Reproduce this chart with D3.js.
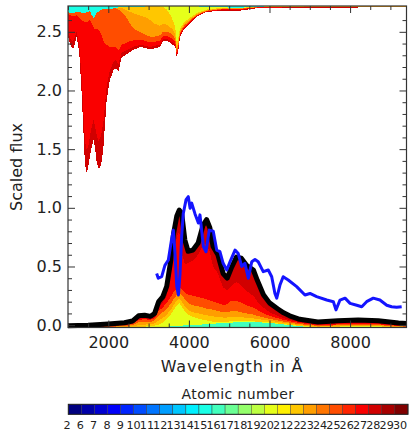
<!DOCTYPE html>
<html>
<head>
<meta charset="utf-8">
<script src="https://cdn.jsdelivr.net/npm/d3@7"></script>
<style>
  body { margin: 0; background: #fff; }
  svg text { font-family: "DejaVu Sans", sans-serif; fill: #222; }
</style>
</head>
<body>
<script>
// ---- emission part (stacked from the bottom), cumulative layer tops ----
const emWave = [1000,1500,2000,2400,2600,2750,2900,3050,3150,3250,3350,3450,3550,3620,3700,3760,3820,3900,3980,4100,4230,4350,4440,4520,4600,4720,4850,4950,5050,5180,5300,5430,5600,5700,5850,6000,6200,6350,6500,6750,7200,7700,8200,8700,9200,9400];
const emCyan   = [-0.02,-0.02,-0.02,-0.02,-0.02,-0.02,-0.02,-0.02,-0.02,-0.02,-0.02,-0.015,-0.01,-0.008,-0.006,-0.005,-0.004,-0.002,0,0.002,0.004,0.006,0.008,0.01,0.012,0.015,0.018,0.02,0.022,0.024,0.025,0.026,0.026,0.025,0.022,0.018,0.012,0.006,0,-0.01,-0.02,-0.02,-0.02,-0.02,-0.02,-0.02];
const emGreen  = [-0.02,-0.02,-0.02,-0.02,-0.02,-0.015,-0.012,-0.01,-0.005,0.005,0.02,0.05,0.09,0.13,0.17,0.19,0.16,0.12,0.09,0.07,0.055,0.045,0.04,0.035,0.03,0.028,0.028,0.03,0.032,0.034,0.034,0.033,0.032,0.03,0.027,0.022,0.015,0.009,0.003,-0.007,-0.016,-0.012,-0.008,-0.01,-0.018,-0.02];
const emGold   = [-0.02,-0.02,-0.018,-0.015,-0.01,0,0.005,0.008,0.015,0.04,0.06,0.09,0.13,0.17,0.21,0.23,0.2,0.16,0.13,0.11,0.1,0.09,0.085,0.08,0.075,0.07,0.065,0.065,0.07,0.07,0.068,0.062,0.058,0.053,0.045,0.038,0.028,0.02,0.013,0,-0.012,-0.008,-0.003,-0.005,-0.015,-0.017];
const emOrange = [-0.02,-0.02,-0.015,-0.008,0,0.025,0.03,0.028,0.04,0.08,0.11,0.14,0.18,0.22,0.26,0.27,0.26,0.22,0.19,0.17,0.16,0.15,0.14,0.14,0.13,0.12,0.11,0.11,0.12,0.12,0.11,0.1,0.09,0.08,0.066,0.053,0.04,0.03,0.022,0.008,-0.006,-0.002,0.003,0,-0.01,-0.013];
const emOrRed  = [-0.02,-0.018,-0.01,0,0.012,0.045,0.05,0.045,0.06,0.12,0.15,0.19,0.24,0.28,0.31,0.32,0.31,0.28,0.26,0.25,0.24,0.23,0.22,0.21,0.2,0.19,0.17,0.18,0.21,0.21,0.19,0.17,0.15,0.13,0.1,0.08,0.06,0.045,0.034,0.018,0,0.006,0.01,0.007,-0.006,-0.009];
const emRed    = [-0.02,-0.015,-0.005,0.005,0.02,0.055,0.06,0.055,0.08,0.16,0.19,0.25,0.42,0.6,0.75,0.8,0.62,0.52,0.53,0.55,0.6,0.68,0.7,0.62,0.5,0.44,0.32,0.3,0.33,0.37,0.34,0.29,0.25,0.2,0.15,0.11,0.08,0.06,0.045,0.025,0.008,0.015,0.02,0.015,0,-0.004];
// total model flux (black line)
const emTotal  = [-0.005,0,0.01,0.02,0.035,0.08,0.085,0.075,0.1,0.2,0.24,0.33,0.55,0.78,0.93,0.98,0.955,0.725,0.63,0.64,0.7,0.85,0.9,0.83,0.67,0.6,0.44,0.4,0.485,0.58,0.57,0.51,0.47,0.38,0.26,0.19,0.14,0.105,0.08,0.05,0.027,0.038,0.044,0.038,0.018,0.015];

// ---- absorption part (hanging from the top), cumulative depths ----
const topWave   = [1000,1060,1130,1215,1280,1340,1380,1420,1460,1500,1540,1590,1630,1670,1710,1750,1795,1840,1880,1920,1960,2040,2125,2190,2250,2330,2415,2540,2650,2790,2950,3035,3150,3280,3360,3450,3530,3600,3660,3700,3740,3780,3880,3990,4190,4440,4850,5270,5680,6010,7000,8000,9400];
const topCyan   = [0.05,0.06,0.06,0.05,0.05,0.06,0.06,0.06,0.05,0.05,0.04,0.08,0.1,0.09,0.06,0.05,0.04,0.03,0.025,0.02,0.025,0.03,0.02,0.015,0.012,0.01,0.01,0.008,0.006,0.005,0.004,0.004,0.004,0.004,0.004,0.004,0.004,0.004,0.004,0.004,0.004,0.004,0.004,0.004,0.004,0.005,0.012,0.015,0.006,0.003,0.002,0.002,0.002];
const topGreen  = [0.05,0.06,0.06,0.05,0.05,0.06,0.06,0.06,0.05,0.05,0.04,0.08,0.1,0.09,0.06,0.05,0.04,0.03,0.025,0.02,0.025,0.03,0.02,0.015,0.012,0.01,0.01,0.008,0.006,0.005,0.004,0.004,0.004,0.004,0.01,0.03,0.07,0.12,0.18,0.32,0.27,0.19,0.14,0.11,0.06,0.03,0.015,0.016,0.007,0.004,0.003,0.003,0.003];
const topGold   = [0.05,0.06,0.06,0.05,0.05,0.06,0.06,0.06,0.05,0.05,0.04,0.08,0.1,0.09,0.06,0.05,0.04,0.03,0.025,0.02,0.025,0.03,0.02,0.015,0.015,0.015,0.03,0.05,0.065,0.08,0.1,0.12,0.15,0.17,0.15,0.16,0.18,0.2,0.24,0.36,0.3,0.21,0.155,0.125,0.07,0.035,0.02,0.02,0.009,0.006,0.004,0.004,0.004];
const topOrange = [0.05,0.06,0.06,0.05,0.05,0.06,0.06,0.06,0.05,0.05,0.04,0.08,0.1,0.09,0.06,0.05,0.04,0.03,0.025,0.02,0.025,0.03,0.02,0.02,0.03,0.05,0.08,0.15,0.2,0.22,0.25,0.26,0.26,0.25,0.22,0.22,0.23,0.25,0.28,0.39,0.32,0.225,0.168,0.135,0.077,0.04,0.024,0.024,0.011,0.008,0.005,0.005,0.005];
const topOrRed  = [0.07,0.08,0.09,0.08,0.1,0.12,0.13,0.14,0.14,0.13,0.12,0.15,0.18,0.2,0.2,0.2,0.22,0.25,0.3,0.32,0.33,0.35,0.35,0.35,0.38,0.33,0.32,0.3,0.29,0.285,0.3,0.31,0.305,0.295,0.255,0.255,0.265,0.285,0.305,0.41,0.34,0.238,0.18,0.145,0.082,0.044,0.028,0.028,0.013,0.01,0.007,0.006,0.006];
const topRed    = [0.22,0.28,0.3,0.22,0.34,0.62,0.9,1.15,1.22,1.2,1.12,1.03,0.97,1.02,1.1,1.15,1.13,1.07,0.98,0.84,0.68,0.55,0.48,0.46,0.5,0.4,0.385,0.36,0.345,0.33,0.34,0.35,0.34,0.33,0.282,0.282,0.292,0.312,0.325,0.43,0.36,0.25,0.19,0.153,0.086,0.047,0.033,0.034,0.015,0.014,0.01,0.009,0.008];
const topTotal  = [0.26,0.33,0.37,0.26,0.4,0.75,1.05,1.34,1.42,1.38,1.29,1.2,1.14,1.2,1.33,1.38,1.38,1.32,1.2,1,0.8,0.63,0.55,0.53,0.56,0.44,0.42,0.39,0.37,0.35,0.36,0.37,0.36,0.35,0.3,0.3,0.31,0.33,0.34,0.44,0.37,0.26,0.2,0.16,0.09,0.05,0.04,0.04,0.02,0.02,0.015,0.013,0.012];

// ---- observed spectrum (blue) ----
const obsWave = [3200,3240,3325,3405,3490,3575,3615,3655,3700,3740,3780,3820,3860,3930,3985,4030,4070,4150,4235,4275,4360,4425,4505,4605,4690,4770,4850,4940,5020,5145,5225,5310,5390,5475,5560,5640,5720,5845,5970,6055,6135,6180,6260,6340,6465,6675,6880,7005,7170,7420,7585,7650,7750,7875,8000,8165,8290,8410,8575,8740,8910,9030,9155,9280];
const obsFlux = [0.44,0.4,0.413,0.51,0.555,0.74,0.81,0.61,0.33,0.257,0.44,0.754,0.95,1.07,1.095,0.996,1.04,0.95,0.87,0.94,0.67,0.626,0.81,0.8,0.64,0.626,0.527,0.47,0.54,0.64,0.61,0.5,0.527,0.4,0.54,0.56,0.54,0.456,0.47,0.413,0.27,0.23,0.342,0.413,0.385,0.328,0.257,0.27,0.243,0.214,0.2,0.13,0.214,0.23,0.186,0.17,0.157,0.2,0.23,0.214,0.17,0.157,0.152,0.157];

// ---- colour bar ----
const atomicNumbers = [2,6,7,8,9,10,11,12,13,14,15,16,17,18,19,20,21,22,23,24,25,26,27,28,29,30];
const palette = ["#000080","#0000a8","#0000d1","#0000fa","#0024ff","#004cff","#0075ff","#009eff","#00c7ff","#00f0ff","#1affe6","#42ffbd","#6bff94","#94ff6b","#bdff42","#e6ff1a","#fff000","#ffc700","#ff9e00","#ff7500","#ff4d00","#ff2400","#fa0000","#d10000","#a80000","#800000"];

const xTicks = [2000, 4000, 6000, 8000];
const yTicks = [0, 0.5, 1.0, 1.5, 2.0, 2.5];

const w = 409, h = 431;
const xMin = 1000, xMax = 9400, yMin = -0.02, yMax = 2.72;

const svg = d3.select("body")
  .append("svg")
  .attr("width", w)
  .attr("height", h);

const x = d3.scaleLinear().domain([xMin, xMax]).range([68, 406.5]);
const y = d3.scaleLinear().domain([yMin, yMax]).range([327.5, 6]);

const layerColors = [palette[11], palette[15], palette[17], palette[18], palette[20], palette[22], palette[23]];
const topColors = [palette[10], palette[15], palette[17], palette[18], palette[20], palette[22], palette[23]];

const plot = svg.append("g").attr("shape-rendering", "crispEdges");

// absorption stack, hanging from the top edge
const topLevels = [topCyan, topGreen, topGold, topOrange, topOrRed, topRed, topTotal];
topLevels.forEach((lev, i) => {
  let prev = i == 0 ? null : topLevels[i - 1];
  let area = d3.area()
    .x((d, j) => x(topWave[j]))
    .y0((d, j) => prev ? y(yMax - prev[j]) : y(yMax))
    .y1((d, j) => y(yMax - d));
  plot.append("path").datum(lev).attr("d", area).attr("fill", topColors[i]);
});

// emission stack from the bottom edge
const emLevels = [emCyan, emGreen, emGold, emOrange, emOrRed, emRed, emTotal];
emLevels.forEach((lev, i) => {
  let prev = i == 0 ? null : emLevels[i - 1];
  let area = d3.area()
    .x((d, j) => x(emWave[j]))
    .y0((d, j) => prev ? y(prev[j]) : y(yMin))
    .y1((d, j) => y(d));
  plot.append("path").datum(lev).attr("d", area).attr("fill", layerColors[i]);
});

// model total
svg.append("path")
  .datum(emTotal)
  .attr("d", d3.line().x((d, j) => x(emWave[j])).y(d => y(d)))
  .attr("fill", "none")
  .attr("stroke", "#000")
  .attr("stroke-width", 5)
  .attr("stroke-linejoin", "round");

// observed
svg.append("path")
  .datum(obsFlux)
  .attr("d", d3.line().x((d, j) => x(obsWave[j])).y(d => y(d)))
  .attr("fill", "none")
  .attr("stroke", "#1414ff")
  .attr("stroke-width", 3)
  .attr("stroke-linejoin", "round");

// axes, IDL style box with inward ticks
const xMinor = d3.range(1000, 9401, 500).filter(v => !xTicks.includes(v));
const yMinor = d3.range(0, 27).map(v => v / 10).filter(v => !yTicks.some(t => Math.abs(t - v) < 1e-6));

const styleAxis = g => {
  g.select(".domain").remove();
  g.selectAll("line").attr("stroke", "#333");
  g.selectAll("text").attr("font-size", 16).attr("fill", "#222").attr("font-family", "DejaVu Sans, sans-serif");
};

svg.append("g").attr("transform", "translate(0,327.5)")
  .call(d3.axisBottom(x).tickValues(xTicks).tickSizeInner(-7).tickSizeOuter(0).tickPadding(9).tickFormat(d3.format("d")))
  .call(styleAxis);
svg.append("g").attr("transform", "translate(0,327.5)")
  .call(d3.axisBottom(x).tickValues(xMinor).tickSizeInner(-4).tickSizeOuter(0).tickFormat(""))
  .call(styleAxis);
svg.append("g").attr("transform", "translate(0,6)")
  .call(d3.axisTop(x).tickValues(xTicks).tickSizeInner(-7).tickSizeOuter(0).tickFormat(""))
  .call(styleAxis);
svg.append("g").attr("transform", "translate(0,6)")
  .call(d3.axisTop(x).tickValues(xMinor).tickSizeInner(-4).tickSizeOuter(0).tickFormat(""))
  .call(styleAxis);

svg.append("g").attr("transform", "translate(68,0)")
  .call(d3.axisLeft(y).tickValues(yTicks).tickSizeInner(-7).tickSizeOuter(0).tickPadding(6).tickFormat(d3.format(".1f")))
  .call(styleAxis);
svg.append("g").attr("transform", "translate(68,0)")
  .call(d3.axisLeft(y).tickValues(yMinor).tickSizeInner(-4).tickSizeOuter(0).tickFormat(""))
  .call(styleAxis);
svg.append("g").attr("transform", "translate(406.5,0)")
  .call(d3.axisRight(y).tickValues(yTicks).tickSizeInner(-7).tickSizeOuter(0).tickFormat(""))
  .call(styleAxis);
svg.append("g").attr("transform", "translate(406.5,0)")
  .call(d3.axisRight(y).tickValues(yMinor).tickSizeInner(-4).tickSizeOuter(0).tickFormat(""))
  .call(styleAxis);

svg.append("rect")
  .attr("x", 68).attr("y", 6)
  .attr("width", 406.5 - 68).attr("height", 327.5 - 6)
  .attr("fill", "none")
  .attr("stroke", "#333")
  .attr("stroke-width", 1.2);

svg.append("text")
  .attr("x", 232).attr("y", 372)
  .attr("text-anchor", "middle")
  .attr("font-size", 16)
  .attr("letter-spacing", 0.8)
  .text("Wavelength in Å");

svg.append("text")
  .attr("transform", "translate(16,167) rotate(-90)")
  .attr("text-anchor", "middle")
  .attr("dominant-baseline", "central")
  .attr("font-size", 16)
  .text("Scaled flux");

// colour bar
const cb = d3.scaleBand().domain(atomicNumbers).range([68.3, 408]);
const cbLabel = d3.scalePoint().domain(atomicNumbers).range([67, 400]);

svg.append("text")
  .attr("x", 238).attr("y", 399)
  .attr("text-anchor", "middle")
  .attr("font-size", 14)
  .attr("letter-spacing", 0.4)
  .text("Atomic number");

let bar = svg.append("g");
bar.selectAll("rect")
  .data(atomicNumbers)
  .enter()
  .append("rect")
  .attr("x", d => cb(d))
  .attr("y", 404.3)
  .attr("width", cb.bandwidth())
  .attr("height", 10)
  .attr("fill", (d, i) => palette[i])
  .attr("stroke", "#333")
  .attr("stroke-width", 0.4);
bar.append("rect")
  .attr("x", 68.3).attr("y", 404.3)
  .attr("width", 408 - 68.3).attr("height", 10)
  .attr("fill", "none")
  .attr("stroke", "#222")
  .attr("stroke-width", 1);

bar.selectAll("text.cbl")
  .data(atomicNumbers)
  .enter()
  .append("text")
  .attr("class", "cbl")
  .attr("x", d => cbLabel(d))
  .attr("y", 428.5)
  .attr("text-anchor", "middle")
  .attr("font-size", 11.2)
  .text(d => d);
</script>
</body>
</html>
